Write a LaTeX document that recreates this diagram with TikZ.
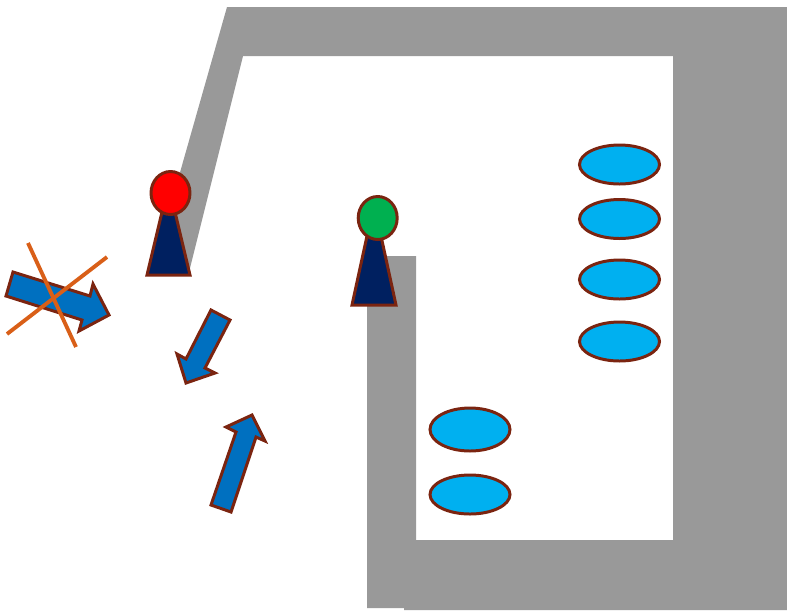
\documentclass[tikz,border=0pt]{standalone}
\usepackage{xcolor}
\usetikzlibrary{shapes.geometric}
\definecolor{wallgray}{HTML}{999999}
\definecolor{outline}{HTML}{7B2410}
\definecolor{arrowblue}{HTML}{0070C0}
\definecolor{seatblue}{HTML}{00B0F0}
\definecolor{bodynavy}{HTML}{002060}
\definecolor{headgreen}{HTML}{00B050}
\definecolor{crossorange}{HTML}{D95F18}

\begin{document}
\begin{tikzpicture}[
    x=0.02cm, y=-0.02cm,
    wall/.style={fill=wallgray, draw=none},
    seat/.style={ellipse, draw=outline, line width=1.7pt, fill=seatblue, minimum width=1.6cm, inner sep=0pt},
    head/.style={ellipse, draw=outline, line width=1.7pt, inner sep=0pt},
    pawn/.style={draw=outline, line width=1.7pt, fill=bodynavy, line join=miter},
    pointer/.style={draw=outline, line width=1.7pt, fill=arrowblue, line join=miter},
    cross/.style={draw=crossorange, line width=2.2pt},
]
    \useasboundingbox (0,0) rectangle (787,610);

    % Walls
    \path[wall] (227,7) -- (787,7) -- (787,610) -- (404,610) -- (404,608) -- (367,608)
        -- (367,256) -- (416,256) -- (416,540) -- (673,540) -- (673,56) -- (243,56)
        -- (189,272) -- (170,272) -- (175,190) -- cycle;

    % Seats
    \node[seat, minimum height=0.78cm] (seatA) at (619.5,164.5) {};
    \node[seat, minimum height=0.78cm] (seatB) at (619.5,219) {};
    \node[seat, minimum height=0.78cm] (seatC) at (619.5,279.5) {};
    \node[seat, minimum height=0.78cm] (seatD) at (619.5,341.5) {};
    \node[seat, minimum height=0.86cm] (seatE) at (470,429.5) {};
    \node[seat, minimum height=0.78cm] (seatF) at (470,494.5) {};

    % Pawns
    \draw[pawn] (162,212) -- (147,275) -- (190,275) -- (175,212) -- cycle;
    \node[head, fill=red, minimum width=0.78cm, minimum height=0.86cm] (headRed) at (170.5,193) {};
    \draw[pawn] (367,236) -- (352,305) -- (396,305) -- (381,236) -- cycle;
    \node[head, fill=headgreen, minimum width=0.78cm, minimum height=0.86cm] (headGreen) at (377.7,218) {};

    % Pointers
    \draw[pointer] (13,272) -- (90,296) -- (93,284) -- (109,315) -- (79,331) -- (82,320) -- (6,296) -- cycle;
    \draw[pointer] (211,310) -- (230,320) -- (205,368) -- (215,373) -- (186,383) -- (177,354) -- (186,359) -- cycle;
    \draw[pointer] (211,505) -- (231,512) -- (256,437) -- (265,441) -- (252,415) -- (226,427) -- (236,432) -- cycle;

    % Crossed out
    \draw[cross] (28,243) -- (76,347);
    \draw[cross] (107,257) -- (7,334);
\end{tikzpicture}
\end{document}
